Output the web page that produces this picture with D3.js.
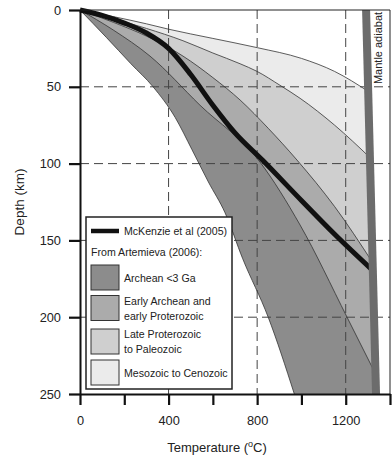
<!DOCTYPE html>
<html>
<head>
<meta charset="utf-8">
<script src="https://cdn.jsdelivr.net/npm/d3@7"></script>
<style>
  body { margin: 0; background: #fff; }
  text { font-family: "Liberation Sans", Arial, sans-serif; fill: #222; }
</style>
</head>
<body>
<div class="chart"></div>
<script>
// geotherms as [temperature (C), depth (km)]
const geothermA = [[0,0],[120,18],[230,35],[330,50],[430,70],[506,91],[580,112],[655,132],[735,162],[850,200],[968,250]];
const geothermB = [[0,0],[150,13],[316,30],[542,62],[813,99],[994,140],[1206,200],[1335,237]];
const geothermC = [[0,0],[150,8],[300,17],[465,30],[600,44],[723,58.6],[850,77],[980,97.7],[1150,128],[1322,164.5]];
const geothermD = [[0,0],[300,12],[465,20],[600,28],[723,35],[800,40],[903,49],[994,57.5],[1150,75],[1309,96]];
const geothermE = [[0,0],[300,9],[400,12.5],[600,18.5],[800,24.5],[1000,31.5],[1150,40],[1302,53]];
const mckenzie = [[0,0],[100,3.5],[200,8.5],[300,15],[400,25],[500,42],[600,62],[700,80],[826,98],[1000,124],[1150,146],[1318,169]];
const adiabat = [[1292,0],[1337,250]];

const tempTicks = [0,200,400,600,800,1000,1200,1400];
const tempLabels = [0,400,800,1200];
const depthTicks = [0,50,100,150,200,250];
const tempGrid = [400,800,1200];
const depthGrid = [50,100,150,200];

const legendNames = [["Archean <3 Ga"], ["Early Archean and","early Proterozoic"], ["Late Proterozoic","to Paleozoic"], ["Mesozoic to Cenozoic"]];
const bandColors = ["#8c8c8c", "#ababab", "#cfcfcf", "#ebebeb"];

const W = 392, H = 459;
const margin = {top: 10, right: 2, bottom: 65, left: 80};

const svg = d3.select(".chart").append("svg")
    .attr("width", W).attr("height", H);

const x = d3.scaleLinear().domain([0,1400]).range([margin.left, W - margin.right]);
const y = d3.scaleLinear().domain([0,250]).range([margin.top, H - margin.bottom]);

// temperature of the adiabat at a given depth
const adT = d => adiabat[0][0] + (adiabat[1][0] - adiabat[0][0]) * d / 250;

const line = d3.line()
    .x(d => x(d[0]))
    .y(d => y(d[1]))
    .curve(d3.curveMonotoneX);

// region hotter than a geotherm, closed along the adiabat
function region(pts) {
    let dEnd = pts[pts.length - 1][1];
    return line(pts) + "L" + x(adT(dEnd)) + "," + y(dEnd) + "L" + x(adT(0)) + "," + y(0) + "Z";
}

let bounds = [geothermA, geothermB, geothermC, geothermD];
bounds.forEach((g, i) => {
    svg.append("path").attr("d", region(g)).attr("fill", bandColors[i]);
});
svg.append("path").attr("d", region(geothermE)).attr("fill", "#fff");

// dashed grid
svg.selectAll(".vgrid").data(tempGrid).enter().append("line")
    .attr("x1", d => x(d)).attr("x2", d => x(d))
    .attr("y1", y(0)).attr("y2", y(250))
    .attr("stroke", "#444").attr("stroke-dasharray", "9,5");
svg.selectAll(".hgrid").data(depthGrid).enter().append("line")
    .attr("x1", x(0)).attr("x2", x(1400))
    .attr("y1", d => y(d)).attr("y2", d => y(d))
    .attr("stroke", "#444").attr("stroke-dasharray", "9,5");

// thin geotherm outlines
[geothermA, geothermB, geothermC, geothermD, geothermE].forEach(g => {
    svg.append("path").attr("d", line(g))
        .attr("fill", "none").attr("stroke", "#333").attr("stroke-width", 0.8);
});

svg.append("path").attr("d", line(mckenzie))
    .attr("fill", "none").attr("stroke", "#111").attr("stroke-width", 5);

svg.append("line")
    .attr("x1", x(adiabat[0][0])).attr("y1", y(adiabat[0][1]))
    .attr("x2", x(adiabat[1][0])).attr("y2", y(adiabat[1][1]))
    .attr("stroke", "#6c6c6c").attr("stroke-width", 8);

svg.append("text")
    .attr("transform", "translate(382,48) rotate(-90)")
    .attr("text-anchor", "middle")
    .style("font-size", "11px")
    .text("Mantle adiabat");

// frame
svg.append("path")
    .attr("d", "M" + x(0) + "," + y(0) + "H" + x(1400) + "V" + y(250))
    .attr("fill", "none").attr("stroke", "#222").attr("stroke-width", 1);

// axes
let yAxis = svg.append("g")
    .attr("transform", "translate(" + x(0) + ",0)")
    .call(d3.axisLeft(y).tickValues(depthTicks).tickSize(11).tickSizeOuter(0).tickPadding(8));
let xAxis = svg.append("g")
    .attr("transform", "translate(0," + y(250) + ")")
    .call(d3.axisBottom(x).tickValues(tempTicks).tickSize(11).tickSizeOuter(0).tickPadding(11)
        .tickFormat(d => tempLabels.includes(d) ? d : ""));
[xAxis, yAxis].forEach(a => {
    a.select(".domain").attr("stroke", "#111").attr("stroke-width", 2);
    a.selectAll(".tick line").attr("stroke", "#111").attr("stroke-width", 2.2);
    a.selectAll(".tick text").style("font-size", "12.8px").style("font-family", "Liberation Sans, Arial, sans-serif").attr("fill", "#222");
});

svg.append("text")
    .attr("transform", "translate(24," + y(125) + ") rotate(-90)")
    .attr("text-anchor", "middle")
    .style("font-size", "13.5px")
    .text("Depth (km)");

let xt = svg.append("text")
    .attr("x", 217).attr("y", 452)
    .attr("text-anchor", "middle")
    .style("font-size", "13px");
xt.append("tspan").text("Temperature (");
xt.append("tspan").attr("dy", -5).style("font-size", "9px").text("o");
xt.append("tspan").attr("dy", 5).text("C)");

// legend
let lg = svg.append("g");
lg.append("rect")
    .attr("x", 86).attr("y", 217).attr("width", 146).attr("height", 172)
    .attr("fill", "#fff").attr("stroke", "#222").attr("stroke-width", 1.5);
lg.append("line")
    .attr("x1", 91).attr("x2", 119).attr("y1", 231).attr("y2", 231)
    .attr("stroke", "#111").attr("stroke-width", 4.5);
lg.append("text").attr("x", 124).attr("y", 235).style("font-size", "10.6px").text("McKenzie et al (2005)");
lg.append("text").attr("x", 91).attr("y", 256).style("font-size", "10.6px").text("From Artemieva (2006):");

const rowTop = [265, 295.5, 329, 360];
legendNames.forEach((names, i) => {
    lg.append("rect")
        .attr("x", 91).attr("y", rowTop[i]).attr("width", 28).attr("height", 25)
        .attr("fill", bandColors[i]).attr("stroke", "#333").attr("stroke-width", 1);
    let base = names.length === 1 ? rowTop[i] + 16.5 : rowTop[i] + 9;
    names.forEach((n, j) => {
        lg.append("text").attr("x", 124).attr("y", base + j * 15)
            .style("font-size", "10.6px").text(n);
    });
});
</script>
</body>
</html>
